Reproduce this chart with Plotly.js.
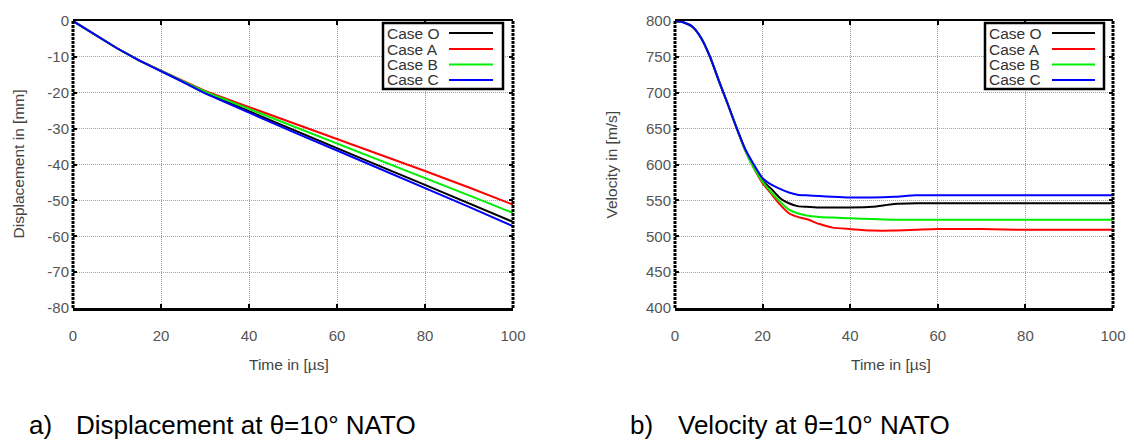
<!DOCTYPE html>
<html>
<head>
<meta charset="utf-8">
<script src="https://cdn.plot.ly/plotly-3.0.1.min.js"></script>
<style>
  html, body { margin: 0; padding: 0; background: #ffffff; }
  #chart { width: 1134px; height: 443px; }
</style>
</head>
<body>
<div id="chart"></div>
<script>
// ---------------- data ----------------
const caseNames = ['Case O', 'Case A', 'Case B', 'Case C'];
const caseColors = ['#000000', '#ff0000', '#00ee00', '#0000ff'];

// Displacement (a)
const dispTime = [0, 5, 10, 15, 20, 25, 30, 40, 50, 60, 70, 80, 90, 100];
const dispCaseO = [0, -3.9, -7.6, -11.0, -13.9, -16.9, -20.0, -25.2, -30.4, -35.5, -40.6, -45.7, -50.9, -56.0];
const dispCaseA = [0, -3.9, -7.6, -11.0, -13.9, -16.8, -19.5, -24.0, -28.4, -32.8, -37.3, -41.8, -46.4, -51.2];
const dispCaseB = [0, -3.9, -7.6, -11.0, -13.9, -16.8, -19.7, -24.5, -29.3, -34.0, -38.8, -43.7, -48.6, -53.5];
const dispCaseC = [0, -3.9, -7.6, -11.0, -13.9, -17.0, -20.2, -25.6, -30.9, -36.1, -41.3, -46.5, -51.8, -57.2];

// Velocity (b)
const velTime = [0, 2, 4, 6, 8, 10, 12, 14, 16, 18, 20, 22, 24, 26, 28, 30, 33, 36, 40, 45, 50, 55, 60, 70, 80, 90, 100];
const velCaseO = [800, 798, 792, 776, 750, 717, 685, 652, 621, 597, 577, 566, 553, 546, 542, 541, 540, 540, 540, 541, 545, 546, 546, 546, 546, 546, 546];
const velCaseA = [800, 798, 792, 776, 750, 717, 685, 652, 620, 595, 574, 559, 544, 532, 527, 524, 517, 512, 510, 508, 508, 509, 510, 510, 509, 509, 509];
const velCaseB = [800, 798, 792, 776, 750, 717, 685, 652, 620, 595, 576, 561, 548, 537, 532, 529, 527, 526, 525, 524, 523, 523, 523, 523, 523, 523, 523];
const velCaseC = [800, 798, 792, 776, 750, 717, 685, 652, 622, 600, 581, 572, 566, 561, 558, 557, 556, 555, 554, 554, 555, 557, 557, 557, 557, 557, 557];

// ticks
const timeTicks = [0, 20, 40, 60, 80, 100];
const timeTickText = ['0', '20', '40', '60', '80', '100'];
const dispTicks = [-80, -70, -60, -50, -40, -30, -20, -10, 0];
const dispTickText = ['-80', '-70', '-60', '-50', '-40', '-30', '-20', '-10', '0'];
const velTicks = [400, 450, 500, 550, 600, 650, 700, 750, 800];
const velTickText = ['400', '450', '500', '550', '600', '650', '700', '750', '800'];

// text
const dispYTitle = 'Displacement in [mm]';
const velYTitle = 'Velocity in [m/s]';
const timeTitle = 'Time in [µs]';
const captionA = ['a)', 'Displacement at θ=10° NATO'];
const captionB = ['b)', 'Velocity at θ=10° NATO'];

// ---------------- layout helpers ----------------
const W = 1134, H = 443;
const px = x => x / W;
const py = y => 1 - y / H;
const FONT = 'Liberation Sans, Arial, Helvetica, sans-serif';

const dispSeries = [dispCaseO, dispCaseA, dispCaseB, dispCaseC];
const velSeries = [velCaseO, velCaseA, velCaseB, velCaseC];

const traces = [];
dispSeries.forEach((s, i) => traces.push({
  x: dispTime, y: s, type: 'scatter', mode: 'lines', name: caseNames[i],
  line: {color: caseColors[i], width: 2}, xaxis: 'x', yaxis: 'y', showlegend: false
}));
velSeries.forEach((s, i) => traces.push({
  x: velTime, y: s, type: 'scatter', mode: 'lines', name: caseNames[i],
  line: {color: caseColors[i], width: 2, shape: 'spline', smoothing: 0.6}, xaxis: 'x2', yaxis: 'y2', showlegend: false
}));

const plotTop = 21, plotBottom = 308;
const domY = [py(plotBottom), py(plotTop)];

function xAxis(l, r, anchor) {
  return {
    domain: [px(l), px(r)], anchor: anchor, range: [0, 100],
    tickvals: timeTicks, ticktext: timeTickText,
    ticks: 'inside', ticklen: 4, tickwidth: 2, tickcolor: '#000',
    showline: true, linewidth: 2.5, linecolor: '#000', mirror: 'ticks',
    showgrid: true, gridcolor: '#a0a0a0', gridwidth: 1, griddash: '1px,1px',
    zeroline: false, ticklabelstandoff: 12,
    tickfont: {family: FONT, size: 15, color: '#555'}
  };
}
function yAxis(range, vals, text, anchor) {
  return {
    domain: domY, anchor: anchor, range: range,
    tickvals: vals, ticktext: text,
    ticks: 'inside', ticklen: 4, tickwidth: 2, tickcolor: '#000',
    showline: false, mirror: 'ticks',
    showgrid: true, gridcolor: '#a0a0a0', gridwidth: 1, griddash: '1px,1px',
    zeroline: false, ticklabelstandoff: 3,
    tickfont: {family: FONT, size: 15, color: '#555'}
  };
}

const shapes = [];
const annotations = [];

// dotted left/right frame borders
[['x', 'y'], ['x2', 'y2']].forEach(([xa, ya]) => {
  [0, 1].forEach(side => shapes.push({
    type: 'line', xref: xa + ' domain', yref: ya + ' domain',
    x0: side, x1: side, y0: 0, y1: 1,
    line: {color: '#000', width: 3, dash: '3px,1px'}
  }));
});

// legends (drawn in paper coordinates)
function legend(boxL, boxR, textX, lineL, lineR) {
  shapes.push({
    type: 'rect', xref: 'paper', yref: 'paper',
    x0: px(boxL), x1: px(boxR), y0: py(89), y1: py(23),
    line: {color: '#000', width: 2.5}, fillcolor: '#ffffff'
  });
  const rows = [33, 49, 64.5, 80];
  caseNames.forEach((n, i) => {
    annotations.push({
      xref: 'paper', yref: 'paper', x: px(textX), y: py(rows[i]),
      xanchor: 'left', yanchor: 'middle', showarrow: false, text: n,
      font: {family: FONT, size: 15.5, color: '#333'}
    });
    shapes.push({
      type: 'line', xref: 'paper', yref: 'paper',
      x0: px(lineL), x1: px(lineR), y0: py(rows[i]), y1: py(rows[i]),
      line: {color: caseColors[i], width: 2}
    });
  });
}
legend(383, 503, 385, 449, 493);
legend(985, 1104, 987, 1052, 1095);

// axis titles
const titleFont = {family: FONT, size: 15.5, color: '#444'};
annotations.push({xref: 'paper', yref: 'paper', x: px(18), y: py(164.5), text: dispYTitle,
  textangle: -90, showarrow: false, xanchor: 'center', yanchor: 'middle', font: titleFont});
annotations.push({xref: 'paper', yref: 'paper', x: px(611), y: py(164.5), text: velYTitle,
  textangle: -90, showarrow: false, xanchor: 'center', yanchor: 'middle', font: titleFont});
annotations.push({xref: 'paper', yref: 'paper', x: px(289), y: py(364), text: timeTitle,
  showarrow: false, xanchor: 'center', yanchor: 'middle', font: titleFont});
annotations.push({xref: 'paper', yref: 'paper', x: px(891), y: py(364), text: timeTitle,
  showarrow: false, xanchor: 'center', yanchor: 'middle', font: titleFont});

// captions
const capFont = {family: FONT, size: 26, color: '#000'};
[[captionA, 27, 74], [captionB, 628, 676]].forEach(([cap, xa, xb]) => {
  annotations.push({xref: 'paper', yref: 'paper', x: px(xa), y: py(425), text: cap[0],
    showarrow: false, xanchor: 'left', yanchor: 'middle', font: capFont});
  annotations.push({xref: 'paper', yref: 'paper', x: px(xb), y: py(425), text: cap[1],
    showarrow: false, xanchor: 'left', yanchor: 'middle', font: capFont});
});

const layout = {
  width: W, height: H,
  margin: {l: 0, r: 0, t: 0, b: 0},
  paper_bgcolor: '#ffffff', plot_bgcolor: '#ffffff',
  showlegend: false,
  xaxis: xAxis(73, 513, 'y'),
  yaxis: yAxis([-80, 0], dispTicks, dispTickText, 'x'),
  xaxis2: xAxis(675, 1113, 'y2'),
  yaxis2: yAxis([400, 800], velTicks, velTickText, 'x2'),
  shapes: shapes,
  annotations: annotations
};

Plotly.newPlot('chart', traces, layout, {staticPlot: true, displayModeBar: false});
</script>
</body>
</html>
